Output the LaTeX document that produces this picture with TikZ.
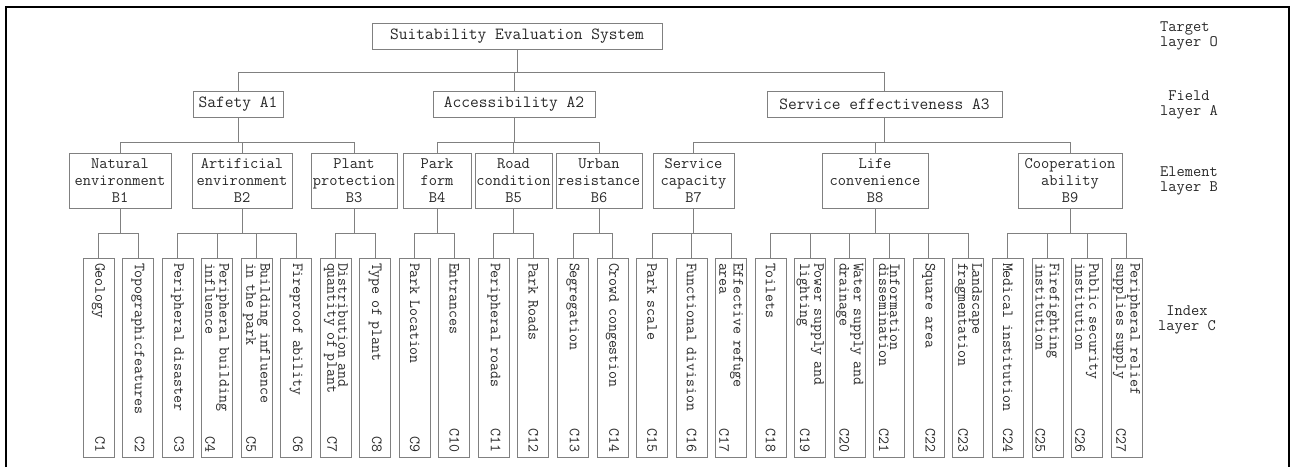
\documentclass[tikz,border=0pt]{standalone}
\usepackage{tikz}
\usetikzlibrary{positioning,calc}
\definecolor{boxline}{RGB}{128,128,128}
\definecolor{ink}{RGB}{40,40,40}

\begin{document}
\begin{tikzpicture}[x=1pt, y=-1pt,
    box/.style={draw=boxline, line width=0.9pt, inner sep=1pt, text=ink},
    topbox/.style={box, minimum height=26pt, font=\ttfamily\fontsize{17}{18}\selectfont},
    elembox/.style={box, minimum height=55pt, align=center, font=\ttfamily\fontsize{16}{17}\selectfont},
    indexbox/.style={box, minimum width=31pt, minimum height=199pt},
    indextext/.style={rotate=-90, text width=189pt, align=left, inner sep=0pt, text=ink,
        font=\ttfamily\fontsize{15.5}{11}\selectfont},
    layertext/.style={align=center, text=ink, font=\ttfamily\fontsize{16}{14.5}\selectfont},
    link/.style={draw=boxline, line width=0.9pt}]

    \useasboundingbox (0,0) rectangle (1294,467);
    \draw[line width=2pt] (6,467) -- (6,7) -- (1289,7) -- (1289,467);

    % target and field layers
    \node[topbox, minimum width=290pt] (sys) at (517,36) {Suitability Evaluation System};
    \node[topbox, minimum width=90pt] (A1) at (238,104) {Safety A1};
    \node[topbox, minimum width=162pt] (A2) at (514,104) {Accessibility A2};
    \node[topbox, minimum width=235pt] (A3) at (884.5,104) {Service effectiveness A3};

    % element layer
    \node[elembox, minimum width=102pt] (B1) at (120,180.5) {Natural\\environment\\B1};
    \node[elembox, minimum width=100pt] (B2) at (242,180.5) {Artificial\\environment\\B2};
    \node[elembox, minimum width=86pt] (B3) at (354,180.5) {Plant\\protection\\B3};
    \node[elembox, minimum width=68pt] (B4) at (437,180.5) {Park\\form\\B4};
    \node[elembox, minimum width=77pt] (B5) at (513.5,180.5) {Road\\condition\\B5};
    \node[elembox, minimum width=86pt] (B6) at (599,180.5) {Urban\\resistance\\B6};
    \node[elembox, minimum width=81pt] (B7) at (693.5,180.5) {Service\\capacity\\B7};
    \node[elembox, minimum width=106pt] (B8) at (875,180.5) {Life\\convenience\\B8};
    \node[elembox, minimum width=104pt] (B9) at (1070,180.5) {Cooperation\\ability\\B9};

    % index layer
    \foreach \i/\txt in {1/Geology, 2/Topographicfeatures, 3/Peripheral disaster,
        4/{Peripheral building\\influence}, 5/{Building influence\\in the park},
        6/Fireproof ability, 7/{Distribution and\\quantity of plant}, 8/Type of plant,
        9/Park Location, 10/Entrances, 11/Peripheral roads, 12/Park Roads,
        13/Segregation, 14/Crowd congestion, 15/Park scale, 16/Functional division,
        17/{Effective refuge\\area}, 18/Toilets, 19/{Power supply and\\lighting},
        20/{Water supply and\\drainage}, 21/{Information\\dissemination}, 22/Square area,
        23/{Landscape\\fragmentation}, 24/Medical institution, 25/{Firefighting\\institution},
        26/{Public security\\institution}, 27/{Peripheral relief\\supplies supply}} {
        \node[indexbox] (C\i) at ({98.5+39.54*(\i-1)},357.5) {};
        \node[indextext] (T\i) at (C\i.center) {\txt\hskip 0pt plus 1filll C\i};
    }

    % layer names
    \node[layertext] (lay0) at (1189,36) {Target\hphantom{x}\\layer O};
    \node[layertext] (layA) at (1189,105) {Field\\layer A};
    \node[layertext] (layB) at (1189,181) {Element\\layer B};
    \node[layertext] (layC) at (1187,320) {Index\\layer C};

    % connectors
    \coordinate (busA) at (0,72);
    \coordinate (busB) at (0,142);
    \coordinate (busC) at (0,233);
    \foreach \c in {A1,A2,A3}
        \draw[link] (sys.south) -- (sys.south |- busA) -| (\c.north);
    \foreach \p/\c in {A1/B1,A1/B2,A1/B3,A2/B4,A2/B5,A2/B6,A3/B7,A3/B8,A3/B9}
        \draw[link] (\p.south) -- (\p.south |- busB) -| (\c.north);
    \foreach \p/\c in {B1/1,B1/2,B2/3,B2/4,B2/5,B2/6,B3/7,B3/8,B4/9,B4/10,B5/11,B5/12,
        B6/13,B6/14,B7/15,B7/16,B7/17,B8/18,B8/19,B8/20,B8/21,B8/22,B8/23,
        B9/24,B9/25,B9/26,B9/27}
        \draw[link] (\p.south) -- (\p.south |- busC) -| (C\c.north);
\end{tikzpicture}
\end{document}
